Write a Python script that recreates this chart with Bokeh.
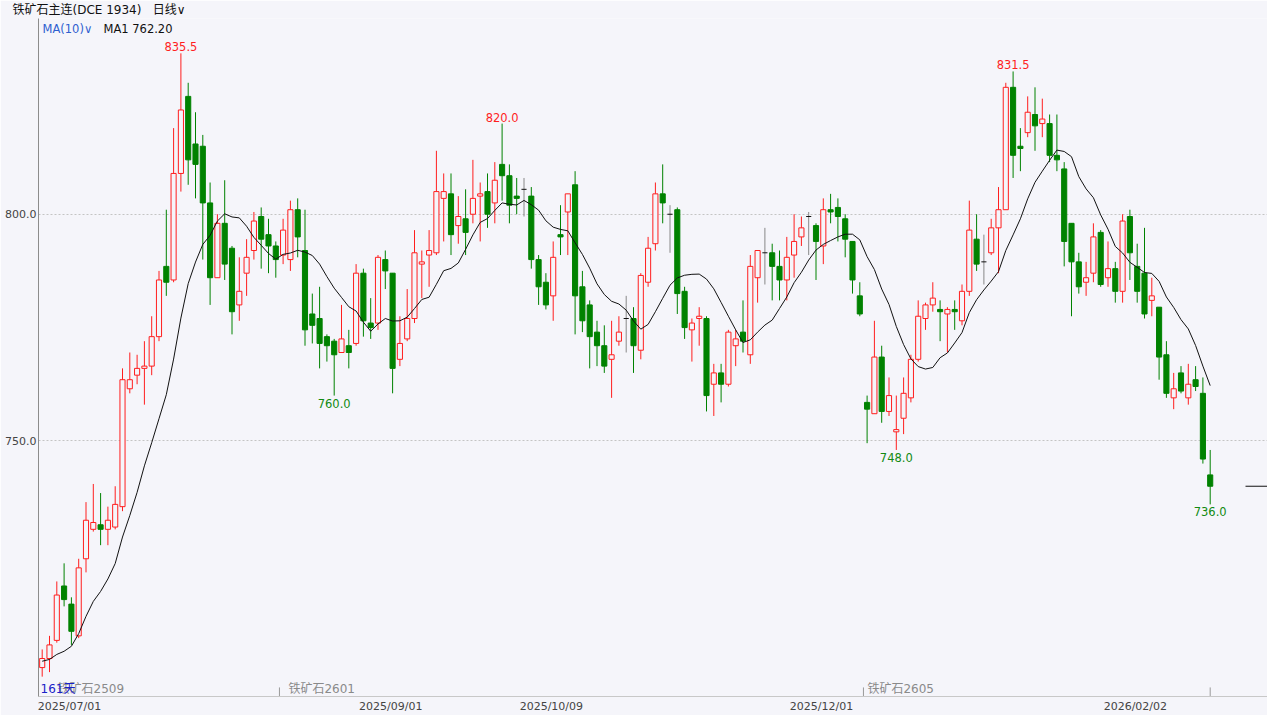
import numpy as np
import pandas as pd
from bokeh.plotting import figure
from bokeh.models import ColumnDataSource, FixedTicker, Range1d, CustomJSTickFormatter, Title
from bokeh.core.properties import value
from bokeh.embed import file_html
from bokeh.resources import INLINE

# ---------------- data ----------------
opens = [700.0, 702.0, 706.0, 718.0, 714.0, 707.0, 724.0, 730.5, 731.5, 730.5,
         731.0, 735.5, 761.5, 764.5, 766.0, 766.5, 773.0, 788.5, 785.5, 809.0,
         826.0, 815.5, 815.0, 802.5, 786.0, 798.0, 792.5, 780.0, 787.0, 792.0,
         799.5, 795.5, 793.0, 791.0, 790.0, 801.0, 792.0, 778.0, 777.0, 773.0,
         772.0, 769.5, 771.0, 771.5, 787.0, 776.0, 776.0, 790.0, 787.0, 768.0,
         772.5, 777.0, 789.0, 791.0, 791.5, 803.5, 804.5, 797.5, 799.0, 800.0,
         804.0, 805.0, 802.5, 811.0, 808.5, 804.0, 805.5, 804.0, 790.0, 785.0,
         782.0, 795.5, 800.5, 806.5, 784.0, 780.0, 774.0, 771.0, 768.0, 772.0,
         777.0, 777.0, 770.0, 785.0, 793.5, 804.5, 800.0, 801.0, 783.0, 774.5,
         777.0, 777.0, 762.5, 765.0, 762.5, 771.0, 774.0, 769.0, 786.0, 791.5,
         791.5, 788.5, 785.5, 791.0, 795.0, 799.5, 797.5, 793.0, 801.0, 801.5,
         799.0, 794.0, 782.0, 758.5, 756.0, 768.5, 756.5, 752.0, 755.0, 759.5,
         768.0, 777.0, 780.0, 779.0, 778.0, 779.0, 776.5, 783.0, 794.5, 789.5,
         791.5, 797.0, 801.0, 828.0, 815.0, 818.0, 822.0, 820.0, 820.0, 813.0,
         810.0, 798.0, 789.5, 785.0, 787.0, 796.0, 786.0, 788.0, 783.0, 799.5,
         788.5, 787.0, 781.0, 779.5, 769.0, 759.5, 765.0, 759.5, 763.5, 760.5,
         742.5]
highs = [704.0, 707.0, 719.0, 723.0, 715.5, 724.0, 736.5, 740.5, 738.5, 735.5,
         740.0, 766.0, 769.5, 769.0, 772.0, 777.5, 787.5, 801.0, 819.0, 835.5,
         829.0, 822.5, 817.5, 807.0, 800.0, 807.5, 793.0, 790.5, 794.5, 800.5,
         801.5, 799.0, 794.0, 799.0, 803.0, 803.5, 801.0, 782.5, 784.0, 773.5,
         772.5, 780.0, 774.5, 789.0, 788.0, 781.5, 791.0, 792.0, 787.0, 777.5,
         783.5, 796.5, 792.0, 796.5, 814.0, 809.0, 809.0, 804.0, 805.5, 812.0,
         807.0, 809.0, 811.5, 820.0, 811.0, 808.0, 808.0, 806.0, 791.0, 787.0,
         794.0, 802.0, 804.5, 809.5, 787.5, 781.0, 776.5, 775.5, 776.5, 777.5,
         782.0, 779.5, 787.0, 795.0, 807.0, 811.0, 802.0, 801.5, 784.0, 777.0,
         779.5, 777.5, 767.0, 767.0, 774.5, 774.5, 781.0, 791.0, 792.0, 797.0,
         793.5, 792.0, 795.0, 800.0, 799.5, 800.5, 798.0, 803.5, 804.5, 803.5,
         800.0, 794.0, 785.0, 760.0, 776.5, 771.0, 764.0, 760.0, 764.0, 769.0,
         781.0, 780.5, 785.0, 781.0, 779.5, 781.0, 784.5, 803.0, 800.0, 795.5,
         799.0, 806.0, 829.0, 831.5, 819.0, 826.0, 828.0, 825.5, 822.0, 822.0,
         811.5, 798.0, 791.5, 789.5, 798.0, 796.5, 794.0, 789.5, 800.0, 801.0,
         793.5, 797.0, 786.0, 779.5, 772.0, 765.0, 766.5, 767.0, 766.5, 764.0,
         748.0]
lows = [698.0, 699.0, 705.5, 713.5, 705.0, 706.5, 721.0, 730.0, 727.0, 727.0,
        730.5, 734.5, 760.5, 762.5, 758.0, 764.5, 772.0, 782.0, 785.0, 805.0,
        806.5, 803.5, 790.0, 780.0, 786.0, 785.5, 773.5, 776.5, 782.0, 790.0,
        788.0, 787.0, 786.0, 789.0, 787.5, 790.5, 771.0, 771.5, 766.0, 767.5,
        760.0, 769.5, 766.0, 771.0, 773.0, 772.5, 774.5, 783.5, 760.5, 766.5,
        772.0, 776.0, 781.5, 784.0, 791.0, 794.0, 791.0, 793.5, 791.0, 798.0,
        794.0, 797.0, 798.0, 803.0, 798.0, 800.0, 799.5, 788.0, 780.0, 779.0,
        776.5, 791.0, 791.0, 773.5, 774.0, 766.0, 766.5, 765.0, 759.5, 771.0,
        769.5, 765.0, 768.0, 784.0, 792.0, 798.0, 791.5, 778.0, 772.5, 767.5,
        771.0, 756.5, 755.5, 758.5, 762.0, 766.5, 769.5, 767.0, 780.5, 784.5,
        781.0, 781.0, 781.0, 786.0, 793.0, 791.0, 785.5, 789.0, 798.0, 794.0,
        790.5, 782.5, 777.5, 749.5, 756.0, 754.0, 755.5, 748.0, 751.5, 758.5,
        767.5, 774.5, 778.5, 772.0, 769.5, 774.5, 775.5, 782.0, 787.5, 784.5,
        791.0, 787.0, 801.0, 808.0, 809.5, 817.0, 814.0, 817.0, 811.5, 809.5,
        788.5, 777.5, 782.5, 782.0, 785.0, 784.0, 784.0, 780.5, 780.5, 785.5,
        780.5, 777.0, 777.5, 763.5, 759.5, 757.0, 760.5, 758.0, 761.0, 745.0,
        736.0]
closes = [702.0, 705.0, 716.0, 715.0, 708.0, 722.0, 732.5, 732.0, 730.5, 732.5,
          736.0, 763.5, 763.5, 766.0, 766.5, 773.0, 785.5, 785.0, 809.0, 823.0,
          812.0, 811.0, 802.5, 786.0, 798.0, 789.0, 778.5, 783.0, 790.5, 798.5,
          794.5, 793.0, 790.0, 796.5, 801.0, 795.0, 774.5, 775.5, 771.5, 771.0,
          769.0, 772.5, 769.5, 787.0, 776.5, 775.0, 790.5, 787.5, 766.0, 771.5,
          777.0, 791.5, 789.5, 792.0, 805.0, 805.0, 795.5, 799.5, 796.0, 803.5,
          804.5, 800.0, 807.5, 808.5, 802.0, 803.5, 805.5, 790.0, 784.0, 780.0,
          790.5, 795.0, 804.5, 782.0, 776.5, 773.0, 771.0, 766.5, 769.0, 774.0,
          777.0, 771.0, 786.5, 792.5, 804.5, 802.5, 800.0, 782.5, 775.0, 776.0,
          777.5, 760.0, 765.0, 762.5, 774.0, 772.5, 772.0, 788.5, 792.0, 791.5,
          788.5, 785.5, 790.5, 794.0, 797.0, 799.5, 794.0, 801.0, 800.5, 799.5,
          794.5, 785.5, 778.0, 757.0, 768.5, 756.5, 760.0, 752.5, 760.5, 768.0,
          777.5, 780.0, 781.5, 778.5, 779.0, 778.5, 783.0, 796.5, 789.0, 789.5,
          797.0, 801.0, 828.0, 813.0, 814.5, 822.5, 819.5, 821.0, 813.0, 812.0,
          794.0, 789.5, 784.0, 786.0, 795.0, 784.5, 788.0, 783.0, 798.5, 791.5,
          783.0, 778.0, 782.0, 768.5, 760.5, 761.5, 761.0, 762.5, 762.0, 746.0,
          740.0]
# MA(10) for the first days (its inputs lie before the visible window)
ma_head = [701.4, 701.8, 702.9, 703.6, 704.7, 707.5, 711.3, 714.6, 716.8]

date_ticks = [0, 44, 66, 103, 146]
date_labels = ["2025/07/01", "2025/09/01", "2025/10/09", "2025/12/01", "2026/02/02"]
contract_start = [0, 33, 113]
contract_names = ["铁矿石2509", "铁矿石2601", "铁矿石2605"]
extreme_idx = [19, 40, 63, 117, 133, 160]
extreme_kind = ["high", "low", "high", "low", "high", "low"]
y_ticks = [750, 800]
ma_period = 10
header = "铁矿石主连(DCE 1934)" + "\u00a0" * 3 + "日线∨"

# ---------------- derived ----------------
n = len(closes)
idx = np.arange(n)
o = np.array(opens); h = np.array(highs); l = np.array(lows); c = np.array(closes)
ma = pd.Series(c).rolling(ma_period).mean().to_numpy()
ma[:len(ma_head)] = ma_head

BG = "#f5f5fa"
RED = "#ff1e1e"
GREEN = "#008200"
NUM_FONT = "DejaVu Sans"
CJK_FONT = "DejaVu Sans, Noto Sans CJK SC"

W, H = 1267, 715
LEFT, TOP, BOTTOM = 38, 18, 18
px_per_bar = 7.3
px_per_unit = 4.54
x_start = -0.507
x_end = x_start + (W - LEFT) / px_per_bar
y_end = 843.18
y_start = y_end - (H - TOP - BOTTOM) / px_per_unit

title = Title(text=header, align="left", offset=-26, standoff=2,
              text_font=CJK_FONT, text_font_size="12px", text_font_style="normal",
              text_color="#111111", vertical_align="middle")

p = figure(width=W, height=H, output_backend="svg", toolbar_location=None,
           x_range=Range1d(x_start, x_end), y_range=Range1d(y_start, y_end),
           min_border_left=LEFT, min_border_right=0, min_border_top=TOP,
           min_border_bottom=BOTTOM, title=title,
           background_fill_color=BG, border_fill_color=BG)
p.outline_line_color = None

# axes
p.yaxis.ticker = FixedTicker(ticks=y_ticks)
p.yaxis.formatter = CustomJSTickFormatter(code="return tick.toFixed(1);")
p.yaxis.major_tick_out = 0
p.yaxis.major_tick_in = 0
p.yaxis.minor_tick_line_color = None
p.yaxis.major_label_standoff = 2
p.yaxis.major_label_text_font = NUM_FONT
p.yaxis.major_label_text_font_size = "11px"
p.yaxis.major_label_text_color = "#444444"
p.yaxis.axis_line_color = "#8c8c8c"

label_half = 31 / px_per_bar  # date labels start at the left edge of their bar slot
xt = [t - 0.5 + label_half for t in date_ticks]
p.xaxis.ticker = FixedTicker(ticks=xt)
p.xaxis.major_label_overrides = {t: lab for t, lab in zip(xt, date_labels)}
p.xaxis.major_tick_out = 0
p.xaxis.major_tick_in = 0
p.xaxis.minor_tick_line_color = None
p.xaxis.major_label_standoff = 3
p.xaxis.major_label_text_font = NUM_FONT
p.xaxis.major_label_text_font_size = "11px"
p.xaxis.major_label_text_color = "#444444"
p.xaxis.axis_line_color = "#c8c8c8"

p.xgrid.grid_line_color = None
p.ygrid.ticker = FixedTicker(ticks=y_ticks)
p.ygrid.grid_line_color = "#c4c4c4"
p.ygrid.grid_line_dash = "2 2"

# candles
up = c > o
down = c < o
doji = c == o
wick_color = np.where(up, RED, np.where(down, GREEN, "#888888"))
p.segment(x0=idx, y0=l, x1=idx, y1=h, line_color=list(wick_color), line_width=1)

bw = 0.7
src_up = ColumnDataSource(dict(x=idx[up], top=c[up], bottom=o[up]))
src_dn = ColumnDataSource(dict(x=idx[down], top=o[down], bottom=c[down]))
p.vbar(x="x", top="top", bottom="bottom", width=bw, source=src_up,
       fill_color=BG, line_color=RED, line_width=1)
p.vbar(x="x", top="top", bottom="bottom", width=bw, source=src_dn,
       fill_color=GREEN, line_color=GREEN, line_width=1)
p.segment(x0=idx[doji] - bw / 2, y0=o[doji], x1=idx[doji] + bw / 2, y1=o[doji],
          line_color="#111111", line_width=1)

# moving average
p.line(idx, ma, line_color="#111111", line_width=1)

# extreme labels
for i, kind in zip(extreme_idx, extreme_kind):
    if kind == "high":
        p.text(x=[i], y=[h[i]], text=[f"{h[i]:.1f}"], text_color=RED,
               text_font=value(NUM_FONT), text_font_size="11.5px",
               text_align="center", text_baseline="bottom", y_offset=-2)
    else:
        p.text(x=[i], y=[l[i]], text=[f"{l[i]:.1f}"], text_color="#118a11",
               text_font=value(NUM_FONT), text_font_size="11.5px",
               text_align="center", text_baseline="top", y_offset=3)

# last price marker on the right edge
p.segment(x0=[x_end - 22 / px_per_bar], y0=[c[-1]], x1=[x_end], y1=[c[-1]],
          line_color="#111111", line_width=1)

# contract switch marks and names along the bottom
marks = [s - 0.5 for s in contract_start[1:]] + [n - 1]
p.segment(x0=marks, y0=[y_start] * len(marks), x1=marks, y1=[y_start + 2.0] * len(marks),
          line_color="#9a9a9a", line_width=1)
offsets = [19, 9, 4]
for s, name, off in zip(contract_start, contract_names, offsets):
    p.text(x=[s - 0.5], y=[y_start], text=[name], text_color="#8a8a8a",
           text_font=value(CJK_FONT), text_font_size="12px",
           text_align="left", text_baseline="bottom", x_offset=off, y_offset=-1)
p.text(x=[x_start], y=[y_start], text=[f"{n}天"], text_color="#1a22c8",
       text_font=value(CJK_FONT), text_font_size="12px",
       text_align="left", text_baseline="bottom", x_offset=2, y_offset=-1)

# MA header inside the frame
p.text(x=[x_start], y=[y_end], text=[f"MA({ma_period})∨"], text_color="#2f5fd0",
       text_font=value(NUM_FONT), text_font_size="11.5px",
       text_align="left", text_baseline="middle", x_offset=4, y_offset=10)
p.text(x=[x_start], y=[y_end], text=[f"MA1 {ma[-1]:.2f}"], text_color="#111111",
       text_font=value(NUM_FONT), text_font_size="11.5px",
       text_align="left", text_baseline="middle", x_offset=65, y_offset=10)

open("out.html", "w").write(file_html(p, INLINE))
